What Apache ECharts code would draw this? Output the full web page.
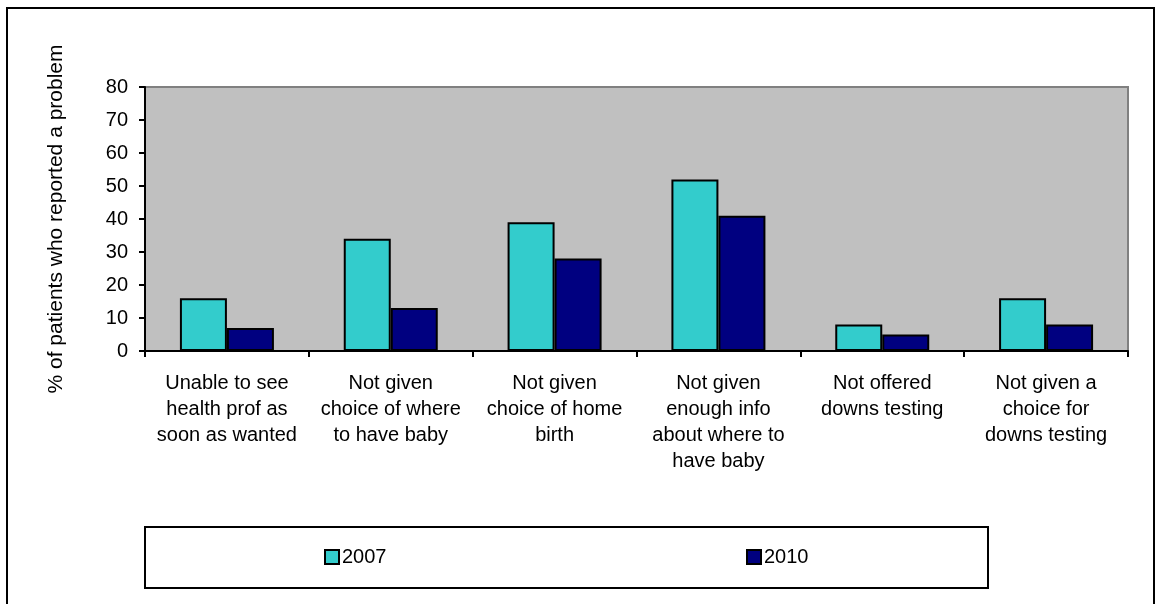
<!DOCTYPE html>
<html>
<head>
<meta charset="utf-8">
<script src="https://cdn.jsdelivr.net/npm/echarts@6/dist/echarts.min.js"></script>
<style>
  html, body { margin: 0; padding: 0; background: #fff; }
  #chart { width: 1157px; height: 604px; }
</style>
</head>
<body>
<div id="chart"></div>
<script>
var categories = [
    'Unable to see\nhealth prof as\nsoon as wanted',
    'Not given\nchoice of where\nto have baby',
    'Not given\nchoice of home\nbirth',
    'Not given\nenough info\nabout where to\nhave baby',
    'Not offered\ndowns testing',
    'Not given a\nchoice for\ndowns testing'
];
var values2007 = [16, 34, 39, 52, 8, 16];
var values2010 = [7, 13, 28, 41, 5, 8];
var yTicks = [0, 10, 20, 30, 40, 50, 60, 70, 80];

var myChart = echarts.init(document.getElementById('chart'));
var font = 'Arial, "Liberation Sans", sans-serif';

option = {
    animation: false,
    backgroundColor: '#fff',
    textStyle: {fontFamily: font},
    grid: {
        left: 145, right: 29, top: 87, bottom: 253,
        show: true,
        backgroundColor: '#C0C0C0',
        borderColor: '#808080',
        borderWidth: 2
    },
    legend: [{
        left: 324, top: 547, padding: 0,
        itemWidth: 14, itemHeight: 14, itemGap: 4,
        icon: 'rect',
        textStyle: {fontFamily: font, fontSize: 20, color: '#000', padding: [0, 0, 0, -2]},
        data: ['2007']
    }, {
        left: 746, top: 547, padding: 0,
        itemWidth: 14, itemHeight: 14, itemGap: 4,
        icon: 'rect',
        textStyle: {fontFamily: font, fontSize: 20, color: '#000', padding: [0, 0, 0, -2]},
        data: ['2010']
    }],
    graphic: [{
        type: 'rect',
        shape: {x: 7, y: 8, width: 1147, height: 600},
        style: {fill: 'none', stroke: '#000', lineWidth: 2},
        silent: true
    }, {
        type: 'rect',
        shape: {x: 145, y: 527, width: 843, height: 61},
        style: {fill: 'none', stroke: '#000', lineWidth: 2},
        silent: true,
        z: -1
    }],
    xAxis: [{
        type: 'category',
        data: categories,
        axisLine: {lineStyle: {color: '#000', width: 2}},
        axisTick: {show: true, alignWithLabel: false, length: 6, lineStyle: {color: '#000', width: 2}},
        axisLabel: {
            interval: 0,
            margin: 19,
            color: '#000',
            fontFamily: font,
            fontSize: 20,
            lineHeight: 26,
            align: 'center'
        },
        splitLine: {show: false}
    }],
    yAxis: [{
        type: 'value',
        min: 0, max: 80, interval: 10,
        name: '% of patients who reported a problem',
        nameLocation: 'middle',
        nameGap: 78,
        nameTextStyle: {fontFamily: font, fontSize: 21, color: '#000'},
        axisLine: {show: true, lineStyle: {color: '#000', width: 2}},
        axisTick: {show: true, length: 6, lineStyle: {color: '#000', width: 2}},
        axisLabel: {
            color: '#000', fontFamily: font, fontSize: 20, margin: 17,
            formatter: function (v) { return yTicks.indexOf(v) >= 0 ? String(v) : ''; }
        },
        splitLine: {show: false}
    }],
    series: [{
        name: '2007',
        type: 'bar',
        data: values2007,
        barWidth: 47,
        barGap: '0%',
        itemStyle: {color: '#33CCCC', borderColor: '#000', borderWidth: 2}
    }, {
        name: '2010',
        type: 'bar',
        data: values2010,
        barWidth: 47,
        barGap: '0%',
        itemStyle: {color: '#000080', borderColor: '#000', borderWidth: 2}
    }]
};
myChart.setOption(option);
</script>
</body>
</html>
